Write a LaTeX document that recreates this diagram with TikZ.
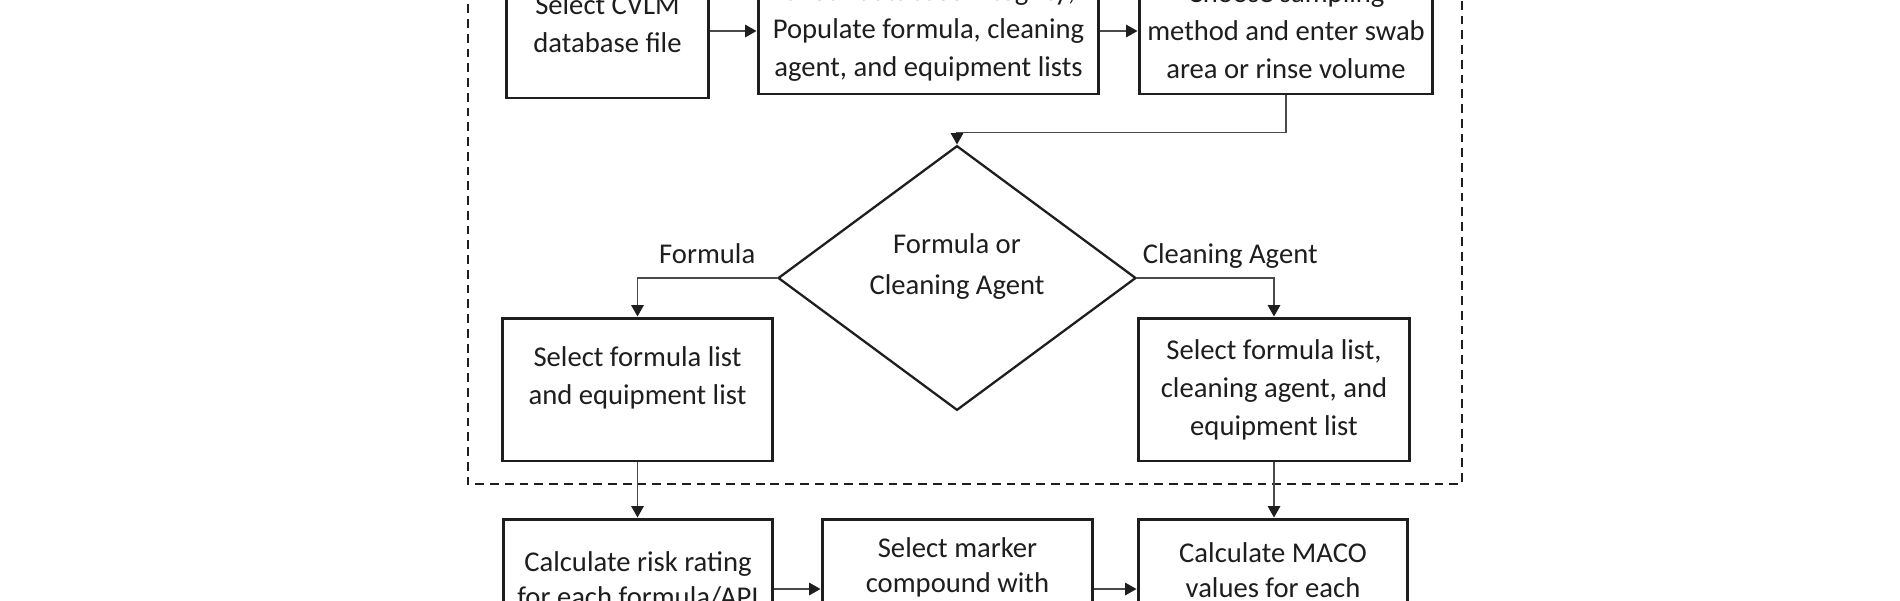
\documentclass[tikz,border=0pt]{standalone}
\usepackage{fontspec}
\setmainfont{Carlito}
\usetikzlibrary{arrows.meta,shapes.geometric}
\definecolor{ink}{HTML}{1E1E1E}
\definecolor{wire}{HTML}{4A4A4A}
\tikzset{
  stepbox/.style={draw=ink, line width=1.7pt, fill=white, text=ink, align=center,
    inner sep=0pt, font=\fontsize{16.3pt}{21.6pt}\selectfont},
  lowbox/.style={stepbox, font=\fontsize{16.3pt}{19.9pt}\selectfont},
  decision/.style={diamond, draw=ink, line width=1.3pt, fill=white, text=ink, align=center,
    inner sep=0pt, minimum width=7.16cm, minimum height=4.28cm,
    font=\fontsize{16.3pt}{21.6pt}\selectfont},
  conn/.style={draw=wire, line width=1pt, -{Triangle[length=0.23cm,width=0.25cm,color=ink]}},
  lbl/.style={text=ink, inner sep=0pt, anchor=base, yshift=0.3cm,
    font=\fontsize{16.3pt}{21.6pt}\selectfont},
  groupbox/.style={draw=ink, line width=1.1pt, dash pattern=on 5pt off 3.4pt}
}
\begin{document}
\begin{tikzpicture}[x=0.02cm,y=-0.02cm]
\useasboundingbox (0,0) rectangle (1900,600);
\clip (0,0) rectangle (1900,600);

% dashed group
\draw[groupbox] (468,-40) rectangle (1462,484);

% top row
\node[stepbox, minimum width=4.06cm, minimum height=2.96cm] (b1) at (607.5,24)
  {Select CVLM\\database file};
\node[stepbox, minimum width=6.82cm, minimum height=2.52cm] (b2) at (928.5,31)
  {Check database integrity;\\Populate formula, cleaning\\agent, and equipment lists};
\node[stepbox, minimum width=5.88cm, minimum height=2.52cm] (b3) at (1286,31)
  {Choose sampling\\method and enter swab\\area or rinse volume};

% decision
\node[decision] (dec) at (957,278)
  {Formula or\\[0.08cm]Cleaning Agent\\[-0.2cm]\mbox{}};

% middle row
\node[stepbox, minimum width=5.42cm, minimum height=2.86cm] (b4) at (637.5,389.5)
  {Select formula list\\and equipment list\\[-0.2cm]\mbox{}};
\node[stepbox, minimum width=5.44cm, minimum height=2.86cm] (b5) at (1274,389.5)
  {Select formula list,\\cleaning agent, and\\equipment list};

% bottom row
\node[lowbox, minimum width=5.4cm, minimum height=2.42cm] (b6) at (638,579.5)
  {Calculate risk rating\\for each formula/API};
\node[lowbox, minimum width=5.42cm, minimum height=1.94cm] (b7) at (957.5,567.5)
  {Select marker\\compound with};
\node[lowbox, minimum width=5.4cm, minimum height=2.04cm] (b8) at (1273,570)
  {Calculate MACO\\values for each};

% connectors
\draw[conn] (b1.east |- b2.west) -- (b2.west);
\draw[conn] (b2.east) -- (b3.west);
\draw[conn] (b3.south) -- ++(0,37) -| (dec.north);
\draw[conn] (dec.west) -- node[lbl] {Formula} (b4.north |- dec.west) -- (b4.north);
\draw[conn] (dec.east) -- node[lbl, pos=0.68] {Cleaning Agent} (b5.north |- dec.east) -- (b5.north);
\draw[conn] (b4.south) -- (b4.south |- b6.north);
\draw[conn] (b5.south) -- (b5.south |- b8.north);
\coordinate (ar) at (0,589);
\draw[conn] (b6.east |- ar) -- (b7.west |- ar);
\draw[conn] (b7.east |- ar) -- (b8.west |- ar);
\end{tikzpicture}
\end{document}
